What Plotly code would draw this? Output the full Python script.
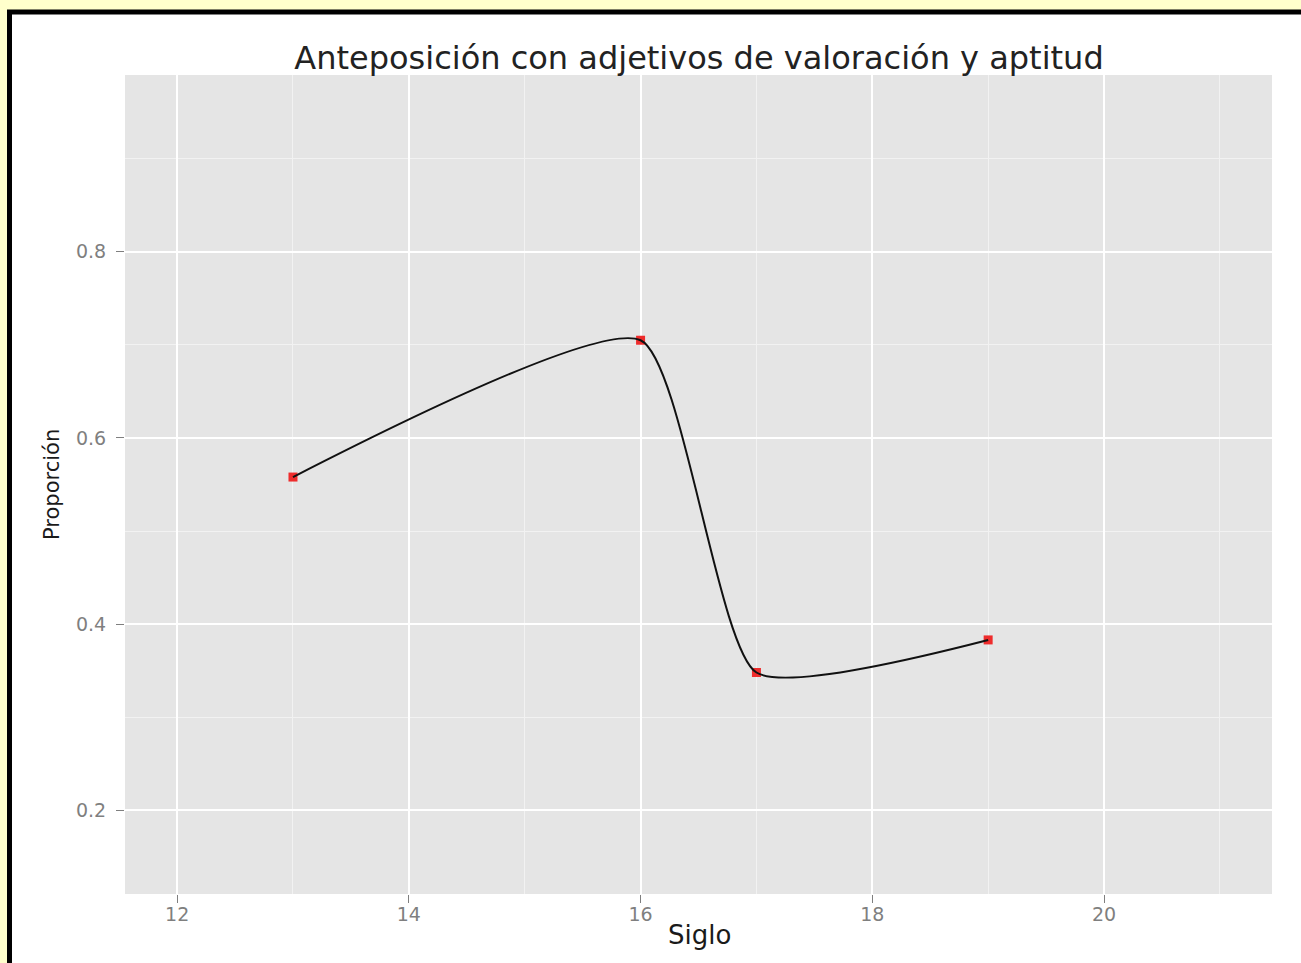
import plotly.graph_objects as go

# Data
siglo = [13, 16, 17, 19]
proporcion = [0.558, 0.705, 0.348, 0.383]

x_major_ticks = [12, 14, 16, 18, 20]
y_major_ticks = [0.2, 0.4, 0.6, 0.8]
y_tick_labels = ["0.2", "0.4", "0.6", "0.8"]

title_text = "Anteposición con adjetivos de valoración y aptitud"
x_title = "Siglo"
y_title = "Proporción"

W, H = 1301, 963
L, R, T, B = 125, 29, 75, 69
pw, ph = W - L - R, H - T - B


def px_x(px):
    return (px - L) / pw


def px_y(py):
    return (H - B - py) / ph


FONT = "DejaVu Sans"

fig = go.Figure()

fig.add_trace(go.Scatter(
    x=siglo, y=proporcion, mode="markers",
    marker=dict(symbol="square", size=9, color="#EE2C2C"),
    hoverinfo="skip", showlegend=False,
))
fig.add_trace(go.Scatter(
    x=siglo, y=proporcion, mode="lines",
    line=dict(color="#111111", width=2, shape="spline", smoothing=0.55),
    showlegend=False,
))

shapes = [
    # white frame with black border
    dict(type="rect", xref="paper", yref="paper", layer="below",
         x0=px_x(9.5), x1=px_x(1320), y0=px_y(985), y1=px_y(12),
         fillcolor="white", line=dict(color="black", width=5)),
    # grey panel
    dict(type="rect", xref="paper", yref="paper", layer="below",
         x0=0, x1=1, y0=0, y1=1, fillcolor="#E5E5E5", line=dict(width=0)),
]

annotations = [
    dict(text=x_title, xref="paper", yref="paper", x=px_x(699), y=px_y(935),
         showarrow=False, xanchor="center", yanchor="middle",
         font=dict(family=FONT, size=26, color="#1a1a1a")),
    dict(text=y_title, xref="paper", yref="paper", x=px_x(52), y=px_y(485),
         showarrow=False, xanchor="center", yanchor="middle", textangle=-90,
         font=dict(family=FONT, size=21, color="#1a1a1a")),
]

fig.update_layout(
    width=W, height=H,
    margin=dict(l=L, r=R, t=T, b=B, pad=0),
    paper_bgcolor="#FFFFCC",
    plot_bgcolor="#E5E5E5",
    title=dict(text=title_text, x=px_x(699), xref="paper", xanchor="center",
               y=1 - 58 / H, yref="container", yanchor="middle",
               font=dict(family=FONT, size=32, color="#222222")),
    shapes=shapes,
    annotations=annotations,
    xaxis=dict(
        range=[11.55, 21.45], tickvals=x_major_ticks,
        ticktext=[str(v) for v in x_major_ticks],
        showgrid=True, gridcolor="white", gridwidth=2,
        zeroline=False, showline=False,
        ticks="outside", ticklen=8, tickwidth=1, tickcolor="#7F7F7F",
        ticklabelstandoff=-5,
        tickfont=dict(family=FONT, size=19, color="#7F7F7F"),
        minor=dict(tickvals=[13, 15, 17, 19, 21], showgrid=True,
                   gridcolor="#F2F2F2", gridwidth=1, ticks=""),
    ),
    yaxis=dict(
        range=[0.11, 0.99], tickvals=y_major_ticks, ticktext=y_tick_labels,
        showgrid=True, gridcolor="white", gridwidth=2,
        zeroline=False, showline=False,
        ticks="outside", ticklen=8, tickwidth=1, tickcolor="#7F7F7F",
        ticklabelstandoff=6,
        tickfont=dict(family=FONT, size=19, color="#7F7F7F"),
        minor=dict(tickvals=[0.3, 0.5, 0.7, 0.9], showgrid=True,
                   gridcolor="#F2F2F2", gridwidth=1, ticks=""),
    ),
)

fig.write_html(
    "out.html",
    config={"displayModeBar": False},
    post_script="document.body.style.margin='0';"
                "document.body.style.background='#FFFFCC';",
)
